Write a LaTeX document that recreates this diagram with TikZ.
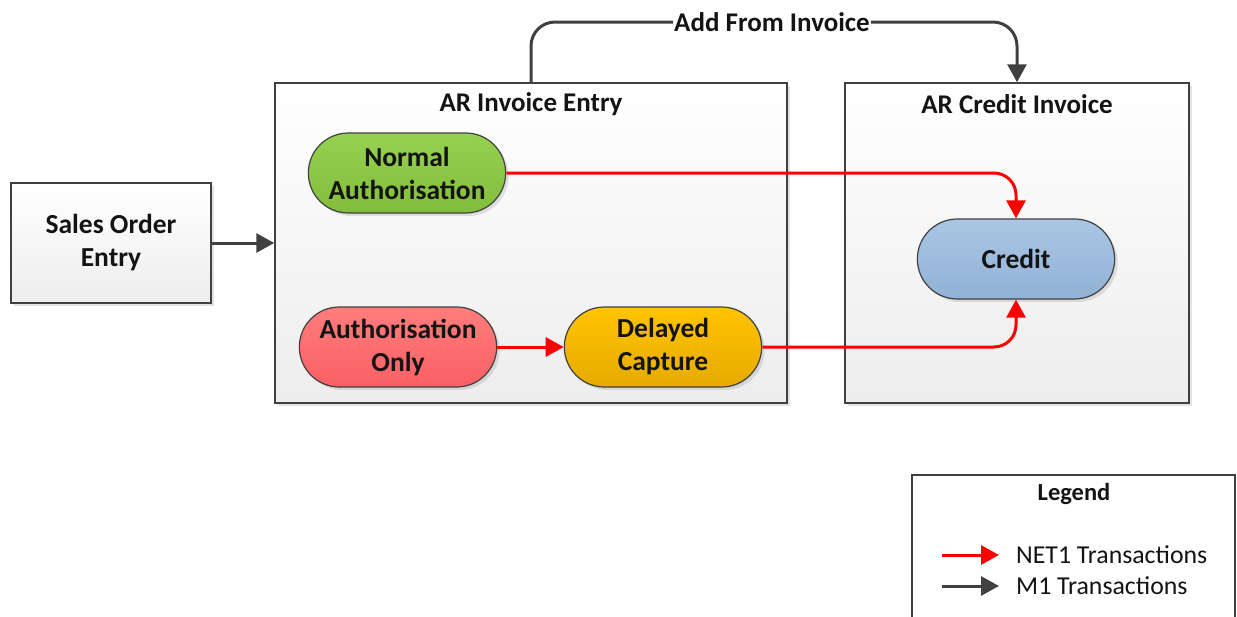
\documentclass[tikz,border=0pt]{standalone}
\usepackage{fontspec}
\setmainfont{Carlito}
\usetikzlibrary{arrows.meta,shapes.misc,shadows}
\definecolor{edge}{HTML}{404040}
\definecolor{txt}{HTML}{141414}
\definecolor{greenT}{RGB}{150,208,80}
\definecolor{greenB}{RGB}{130,190,60}
\definecolor{redT}{RGB}{255,125,125}
\definecolor{redB}{RGB}{250,95,100}
\definecolor{goldT}{RGB}{255,196,0}
\definecolor{goldB}{RGB}{230,170,0}
\definecolor{blueT}{RGB}{170,198,228}
\definecolor{blueB}{RGB}{145,178,214}
\tikzset{
  shad/.style={drop shadow={opacity=0.22, shadow xshift=3pt, shadow yshift=-3pt}},
  container/.style={draw=edge, line width=1.5pt, top color=white, bottom color=black!7, shad},
  pill/.style={rounded rectangle, draw=edge, line width=1.2pt, minimum width=204pt,
    minimum height=80pt, align=center, text=txt, shad,
    font=\bfseries\fontsize{27.5}{33}\selectfont},
  title/.style={text=txt, font=\bfseries\fontsize{27}{30}\selectfont, inner sep=1pt},
  rarrow/.style={draw=red, line width=3pt, -{Triangle[length=18pt,width=19pt]}},
  garrow/.style={draw=edge, line width=3pt, -{Triangle[length=18pt,width=19pt]}},
}
\begin{document}
\begin{tikzpicture}[x=1pt,y=-1pt]
\useasboundingbox (0,0) rectangle (1237,616);
% containers
\node[container, minimum width=512pt, minimum height=320pt] (inv) at (531,243) {};
\node[container, minimum width=344pt, minimum height=320pt] (crc) at (1017,243) {};
\node[title] (invt) at (531,104) {AR Invoice Entry};
\node[title] (crct) at (1017,104) {AR Credit Invoice};
% sales order
\node[container, line width=1.2pt, minimum width=200pt, minimum height=120pt, align=center,
  text=txt, font=\bfseries\fontsize{27.5}{33}\selectfont] (soe) at (111,243) {Sales Order\\Entry};
% pills
\node[pill, top color=greenT, bottom color=greenB] (na) at (407,173) {Normal\\Authorisation};
\node[pill, top color=redT, bottom color=redB] (ao) at (398,347) {Authorisation\\Only};
\node[pill, top color=goldT, bottom color=goldB] (dc) at (663,347) {Delayed\\Capture};
\node[pill, top color=blueT, bottom color=blueB] (cr) at (1016,259) {Credit};
% connectors
\draw[garrow] (soe.east) -- (inv.west);
\draw[rarrow] (ao.east) -- (dc.west);
\draw[rarrow, rounded corners=22pt] (na.east) -| (cr.north);
\draw[rarrow, rounded corners=22pt] (dc.east) -| (cr.south);
\node[title, fill=white] (add) at (772,22) {Add From Invoice};
\draw[draw=edge, line width=3pt, rounded corners=24pt] (inv.north) |- (add.west);
\draw[garrow, rounded corners=24pt] (add.east) -| (crc.north);
% legend
\node[draw=edge, line width=1.2pt, fill=white, minimum width=323pt, minimum height=155pt] (leg) at (1073.5,552.5) {};
\node[text=txt, font=\bfseries\fontsize{24.5}{28}\selectfont] (legt) at (1074,494) {Legend};
\coordinate (l1a) at (942,555);
\coordinate (l1b) at (999,555);
\coordinate (l2a) at (942,586);
\coordinate (l2b) at (999,586);
\draw[rarrow] (l1a) -- (l1b);
\draw[garrow] (l2a) -- (l2b);
\node[anchor=west, text=txt, font=\fontsize{25.8}{28}\selectfont, inner sep=0pt] (lt1) at (1016,555) {NET1 Transactions};
\node[anchor=west, text=txt, font=\fontsize{25.8}{28}\selectfont, inner sep=0pt] (lt2) at (1016,586) {M1 Transactions};
\end{tikzpicture}
\end{document}
